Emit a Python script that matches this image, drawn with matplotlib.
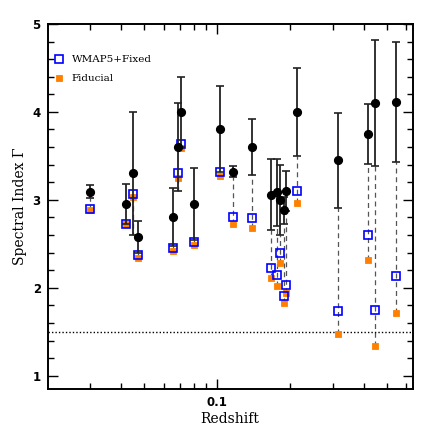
import matplotlib
matplotlib.use("Agg")
import matplotlib.pyplot as plt
from matplotlib.ticker import FixedLocator, MultipleLocator, NullFormatter, FixedFormatter
import numpy as np

# ---- data ----
redshift = [0.0299, 0.0420, 0.0451, 0.0471, 0.0659, 0.0687, 0.0711, 0.0804,
            0.1026, 0.1164, 0.1386, 0.1660, 0.1766, 0.1812, 0.1877, 0.1919,
            0.2135, 0.3133, 0.4164, 0.4474, 0.5430]
gamma = [3.09, 2.95, 3.30, 2.58, 2.80, 3.60, 4.00, 2.95,
         3.81, 3.32, 3.60, 3.06, 3.085, 3.00, 2.88, 3.10,
         4.00, 3.45, 3.75, 4.10, 4.11]
gamma_err_lo = [0.07, 0.22, 0.70, 0.18, 0.33, 0.50, 0.40, 0.41,
                0.49, 0.06, 0.32, 0.40, 0.38, 0.40, 0.15, 0.23,
                0.50, 0.54, 0.34, 0.72, 0.68]
gamma_err_hi = [0.08, 0.23, 0.70, 0.18, 0.33, 0.50, 0.40, 0.41,
                0.49, 0.06, 0.32, 0.40, 0.38, 0.40, 0.15, 0.23,
                0.50, 0.54, 0.34, 0.72, 0.69]
wmap5_fixed = [2.89, 2.73, 3.07, 2.37, 2.45, 3.30, 3.64, 2.52,
               3.32, 2.81, 2.79, 2.23, 2.14, 2.39, 1.905, 2.03,
               3.10, 1.735, 2.60, 1.746, 2.137]
fiducial = [2.88, 2.72, 3.035, 2.34, 2.42, 3.25, 3.59, 2.49,
            3.27, 2.73, 2.68, 2.11, 2.02, 2.28, 1.83, 1.94,
            2.96, 1.473, 2.32, 1.34, 1.716]
ref_gamma = 1.5

z = np.array(redshift)
g = np.array(gamma)
glo = np.array(gamma_err_lo)
ghi = np.array(gamma_err_hi)
w = np.array(wmap5_fixed)
f = np.array(fiducial)

fig = plt.figure(figsize=(4.36, 4.36), dpi=100)
ax = fig.add_axes([0.1094, 0.1071, 0.8372, 0.8379])

# dashed connectors
low = np.minimum(w, f)
ax.vlines(z, low, g - glo, colors='#555555', linestyles=(0, (4, 3)),
          linewidth=0.9, zorder=1)

ax.axhline(ref_gamma, color='k', linestyle=(0, (1, 1.5)), linewidth=1.0, zorder=1)

ax.plot(z, f, linestyle='none', marker='s', ms=5.0, mfc='#ff8000', mec='#ff8000',
        mew=0.6, zorder=3, label='Fiducial')
ax.plot(z, w, linestyle='none', marker='s', ms=5.2, mfc='none', mec='#0000ff',
        mew=1.2, zorder=4, label='WMAP5+Fixed')

ax.errorbar(z, g, yerr=[glo, ghi], fmt='o', color='k', ecolor='#222222',
            ms=5.6, elinewidth=1.3, capsize=3.0, capthick=1.2, zorder=5)

ax.set_xscale('log')
ax.set_xlim(0.02, 0.638)
ax.set_ylim(0.845, 5.0)

ax.xaxis.set_major_locator(FixedLocator([0.1]))
ax.xaxis.set_major_formatter(FixedFormatter(['0.1']))
ax.xaxis.set_minor_locator(FixedLocator([0.03, 0.04, 0.05, 0.06, 0.07, 0.08, 0.09,
                                         0.2, 0.3, 0.4, 0.5, 0.6]))
ax.xaxis.set_minor_formatter(NullFormatter())
ax.yaxis.set_major_locator(MultipleLocator(1))
ax.yaxis.set_minor_locator(MultipleLocator(0.2))

ax.tick_params(which='both', direction='in', top=True, right=True, width=1.0)
ax.tick_params(which='major', length=7, labelsize=8.5, pad=5)
ax.tick_params(which='minor', length=4)
for lab in ax.get_xticklabels() + ax.get_yticklabels():
    lab.set_fontweight('bold')
for s in ax.spines.values():
    s.set_linewidth(1.4)

ax.set_xlabel('Redshift', family='DejaVu Serif', fontsize=10, labelpad=2)
ax.set_ylabel('Spectral Index Γ', family='DejaVu Serif', fontsize=10, labelpad=4)

h, l = ax.get_legend_handles_labels()
ax.legend([h[1], h[0]], [l[1], l[0]], loc='upper left', frameon=False,
          prop={'family': 'DejaVu Serif', 'size': 7.5}, handlelength=0.8,
          handletextpad=0.8, borderaxespad=0.3, labelspacing=0.95,
          bbox_to_anchor=(0.0, 0.935))

fig.savefig('out.png', dpi=100)
